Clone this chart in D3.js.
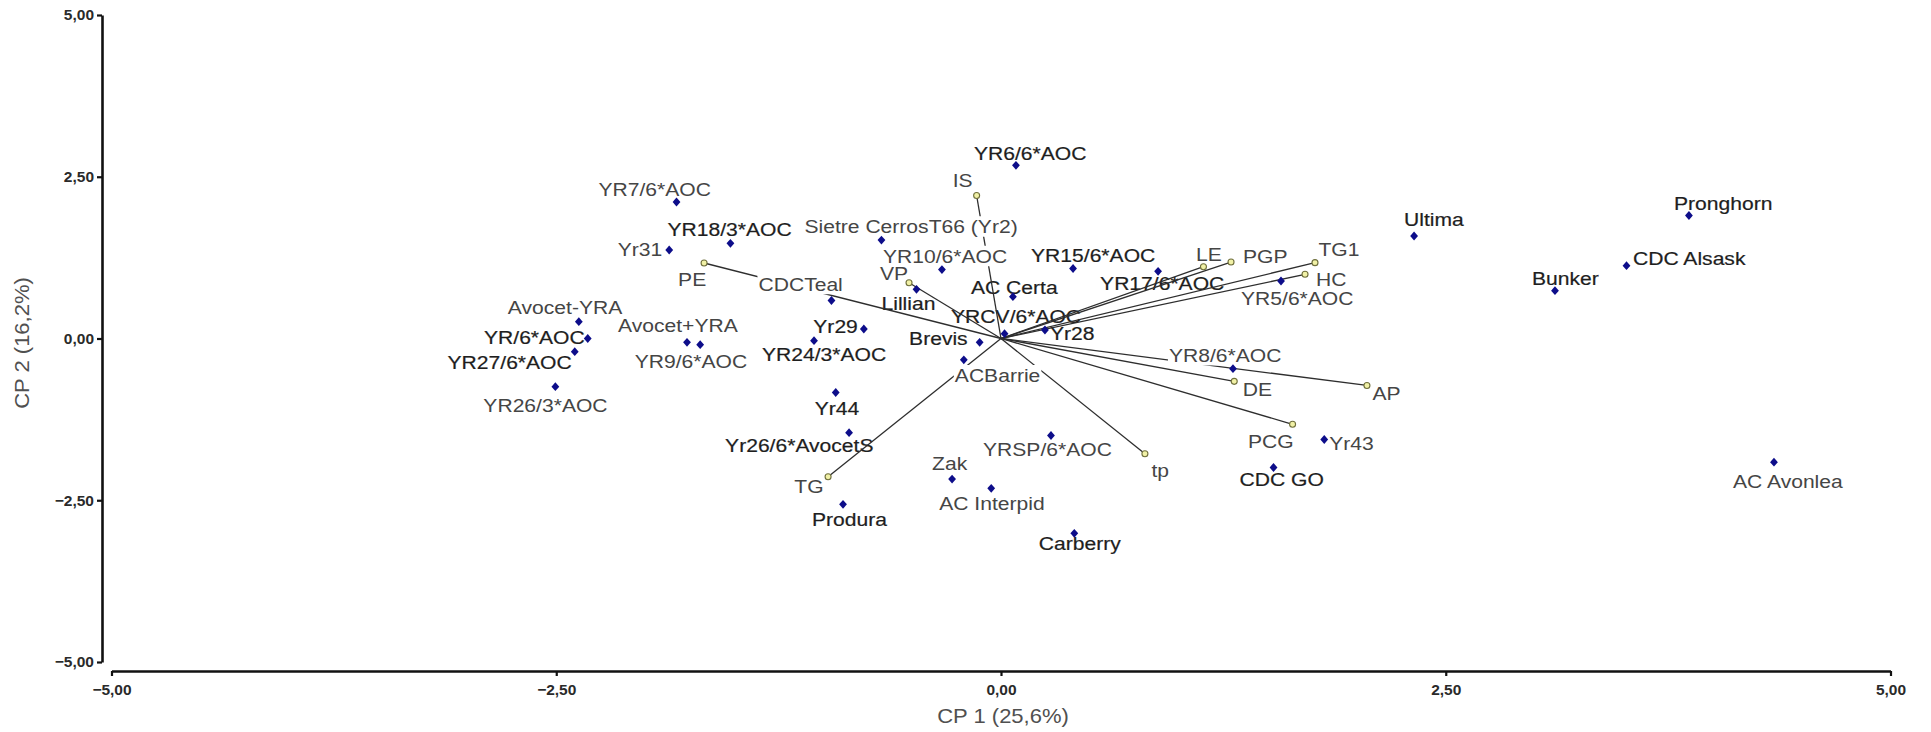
<!DOCTYPE html>
<html>
<head>
<meta charset="utf-8">
<script src="https://cdn.jsdelivr.net/npm/d3@7"></script>
<style>
  html, body { margin: 0; padding: 0; background: #fff; }
  svg { display: block; }
  text { font-family: "Liberation Sans", Arial, Helvetica, sans-serif; }
</style>
</head>
<body>
<svg id="chart" width="1931" height="732"></svg>
<script>
// Genotype scores on the first two principal components
const genotypes = [
  "YR6/6*AOC", "YR7/6*AOC", "YR18/3*AOC", "Yr31", "Sietre CerrosT66 (Yr2)",
  "YR10/6*AOC", "YR15/6*AOC", "YR17/6*AOC", "YR5/6*AOC", "Ultima",
  "Pronghorn", "CDC Alsask", "Bunker", "Lillian", "AC Certa",
  "CDCTeal", "Yr29", "Avocet-YRA", "YR/6*AOC", "YR27/6*AOC",
  "YR26/3*AOC", "Avocet+YRA", "YR9/6*AOC", "YR24/3*AOC", "Brevis",
  "YRCV/6*AOC", "Yr28", "ACBarrie", "YR8/6*AOC", "Yr44",
  "Yr26/6*AvocetS", "Yr43", "YRSP/6*AOC", "CDC GO", "AC Avonlea",
  "Zak", "AC Interpid", "Produra", "Carberry"
];
const genoCP1 = [
  0.084, -1.824, -1.521, -1.865, -0.672,
  -0.332, 0.405, 0.883, 1.574, 2.322,
  3.867, 3.516, 3.114, -0.475, 0.067,
  -0.953, -0.771, -2.373, -2.323, -2.396,
  -2.505, -1.765, -1.691, -1.051, -0.120,
  0.020, 0.247, -0.209, 1.304, -0.929,
  -0.854, 1.817, 0.281, 1.532, 4.345,
  -0.275, -0.055, -0.888, 0.412
];
const genoCP2 = [
  2.677, 2.110, 1.471, 1.368, 1.522,
  1.066, 1.082, 1.039, 0.889, 1.584,
  1.901, 1.125, 0.739, 0.760, 0.646,
  0.587, 0.147, 0.260, 0.000, -0.204,
  -0.745, -0.059, -0.096, -0.034, -0.059,
  0.074, 0.131, -0.329, -0.467, -0.835,
  -1.456, -1.561, -1.499, -1.994, -1.912,
  -2.172, -2.315, -2.563, -3.011
];

// Trait vectors (loadings) drawn from the origin
const variables = ["IS", "PE", "VP", "LE", "PGP", "TG1", "HC", "DE", "AP", "PCG", "tp", "TG"];
const varCP1 = [-0.137, -1.669, -0.517, 1.138, 1.293, 1.765, 1.709, 1.311, 2.057, 1.639, 0.809, -0.972];
const varCP2 = [2.210, 1.167, 0.862, 1.110, 1.182, 1.172, 0.992, -0.662, -0.726, -1.326, -1.781, -2.136];

const tickValues = [-5, -2.5, 0, 2.5, 5];
const xTitle = "CP 1 (25,6%)";
const yTitle = "CP 2 (16,2%)";

// Label placement relative to each mark: [dx, dy(baseline), anchor]
const labelPlacement = {
  "YR6/6*AOC": [-42, -5, "start"], "YR7/6*AOC": [-78, -6, "start"],
  "YR18/3*AOC": [-63, -7, "start"], "Yr31": [-7, 6, "end"],
  "Sietre CerrosT66 (Yr2)": [-77, -7, "start"], "YR10/6*AOC": [-59, -7, "start"],
  "YR15/6*AOC": [-42, -6, "start"], "YR17/6*AOC": [-58, 19, "start"],
  "YR5/6*AOC": [-40, 24, "start"], "Ultima": [-10, -10, "start"],
  "Pronghorn": [-15, -6, "start"], "CDC Alsask": [6.5, -1, "start"],
  "Bunker": [-23, -6, "start"], "Lillian": [-35, 21, "start"],
  "AC Certa": [-42, -3, "start"], "CDCTeal": [-73, -10, "start"],
  "Yr29": [-6, 4, "end"], "Avocet-YRA": [-71, -8, "start"],
  "YR/6*AOC": [-3, 5.5, "end"], "YR27/6*AOC": [-3, 17.6, "end"],
  "YR26/3*AOC": [-72, 25, "start"], "Avocet+YRA": [-69, -10.6, "start"],
  "YR9/6*AOC": [-65.5, 23.6, "start"], "YR24/3*AOC": [-52, 20, "start"],
  "Brevis": [-12, 3, "end"], "YRCV/6*AOC": [-53.5, -10.4, "start"],
  "Yr28": [5, 10, "start"], "ACBarrie": [-9, 22, "start"],
  "YR8/6*AOC": [-64, -7, "start"], "Yr44": [-21, 22.5, "start"],
  "Yr26/6*AvocetS": [-124, 19, "start"], "Yr43": [5, 10.5, "start"],
  "YRSP/6*AOC": [-68, 21, "start"], "CDC GO": [-34, 18.5, "start"],
  "AC Avonlea": [-41, 26, "start"], "Zak": [-20, -9, "start"],
  "AC Interpid": [-52, 22, "start"], "Produra": [-31, 22, "start"],
  "Carberry": [-35.5, 17, "start"],
  "IS": [-24, -9, "start"], "PE": [-26, 23, "start"], "VP": [-1, -3, "end"],
  "LE": [-7.5, -6, "start"], "PGP": [12, 1, "start"], "TG1": [3.5, -7, "start"],
  "HC": [11, 12, "start"], "DE": [8.5, 15, "start"], "AP": [5.5, 15, "start"],
  "PCG": [1, 24, "end"], "tp": [6.5, 23, "start"], "TG": [-4.5, 16, "end"]
};
const darkLabels = new Set([
  "YR6/6*AOC", "YR18/3*AOC", "YR/6*AOC", "YR27/6*AOC", "Yr29", "YR24/3*AOC",
  "Yr44", "Yr26/6*AvocetS", "Produra", "Carberry", "CDC GO", "Lillian", "Brevis",
  "YRCV/6*AOC", "Yr28", "AC Certa", "YR15/6*AOC", "YR17/6*AOC", "Ultima",
  "Pronghorn", "CDC Alsask", "Bunker"
]);
// Labels painted on a white box so they cover the vectors beneath them
const boxedLabels = new Set(["Sietre CerrosT66 (Yr2)", "YR10/6*AOC", "CDCTeal", "YR8/6*AOC", "ACBarrie"]);

const svg = d3.select("#chart");
const x = d3.scaleLinear().domain([-5, 5]).range([111.5, 1890.5]);
const y = d3.scaleLinear().domain([-5, 5]).range([662, 15]);
const fmt = d => d3.format(".2f")(d).replace(".", ",");

svg.append("rect").attr("width", 1931).attr("height", 732).attr("fill", "#fff");

// Axes, offset from the plotting region as in the original layout
const yAxis = svg.append("g").attr("transform", "translate(102,0)")
  .call(d3.axisLeft(y).tickValues(tickValues).tickFormat(fmt).tickSizeInner(5).tickSizeOuter(0).tickPadding(3));
const xAxis = svg.append("g").attr("transform", "translate(0,671)")
  .call(d3.axisBottom(x).tickValues(tickValues).tickFormat(fmt).tickSizeInner(5).tickSizeOuter(0).tickPadding(8));
[yAxis, xAxis].forEach(a => {
  a.select(".domain").attr("stroke", "#111").attr("stroke-width", 2.6);
  a.selectAll(".tick line").attr("stroke", "#111").attr("stroke-width", 2.2);
  a.selectAll(".tick text").attr("fill", "#2a2a2a").attr("font-size", 15.5)
    .attr("font-weight", "bold").attr("font-family", "'Liberation Sans', Arial, sans-serif");
});

svg.append("text").attr("transform", "translate(1003,723) scale(1.1,1)")
  .attr("text-anchor", "middle").attr("font-size", 20).attr("fill", "#505050").text(xTitle);
svg.append("text").attr("transform", "translate(29,343) rotate(-90) scale(1.1,1)")
  .attr("text-anchor", "middle").attr("font-size", 20).attr("fill", "#505050").text(yTitle);

const SX = 1.14;
function drawLabel(layer, name, px, py) {
  const p = labelPlacement[name] || [4, -4, "start"];
  const dark = darkLabels.has(name);
  const g = layer.append("g").attr("transform", `translate(${px + p[0]},${py + p[1]})`);
  const t = g.append("text")
    .attr("transform", `scale(${SX},1)`)
    .attr("text-anchor", p[2])
    .attr("font-size", 18.5)
    .attr("fill", dark ? "#1e1e1e" : "#454545")
    .attr("stroke", dark ? "#1e1e1e" : "none")
    .attr("stroke-width", dark ? 0.2 : 0)
    .text(name);
  if (boxedLabels.has(name)) {
    const bb = t.node().getBBox();
    g.insert("rect", "text")
      .attr("x", bb.x * SX - 1).attr("y", bb.y)
      .attr("width", bb.width * SX + 2).attr("height", bb.height)
      .attr("fill", "#fff");
  }
}

const genoData = genotypes.map((n, i) => ({ name: n, cp1: genoCP1[i], cp2: genoCP2[i] }));
const varData = variables.map((n, i) => ({ name: n, cp1: varCP1[i], cp2: varCP2[i] }));

// Plain labels sit under the vectors
const under = svg.append("g");
genoData.concat(varData).forEach(d => {
  if (!boxedLabels.has(d.name)) drawLabel(under, d.name, x(d.cp1), y(d.cp2));
});

// Trait vectors
svg.append("g").selectAll("line").data(varData).join("line")
  .attr("x1", x(0)).attr("y1", y(0))
  .attr("x2", d => x(d.cp1)).attr("y2", d => y(d.cp2))
  .attr("stroke", "#2e2e2e").attr("stroke-width", 1.3);

const over = svg.append("g");
genoData.concat(varData).forEach(d => {
  if (boxedLabels.has(d.name)) drawLabel(over, d.name, x(d.cp1), y(d.cp2));
});

// Genotype markers
svg.append("g").selectAll("path").data(genoData).join("path")
  .attr("transform", d => `translate(${x(d.cp1)},${y(d.cp2)})`)
  .attr("d", "M0,-4.4L3.9,0L0,4.4L-3.9,0Z")
  .attr("fill", "#0d0d8a");

// Trait end markers
svg.append("g").selectAll("circle").data(varData).join("circle")
  .attr("cx", d => x(d.cp1)).attr("cy", d => y(d.cp2)).attr("r", 3)
  .attr("fill", "#f1f1a6").attr("stroke", "#6f6f3c").attr("stroke-width", 1.1);
</script>
</body>
</html>
